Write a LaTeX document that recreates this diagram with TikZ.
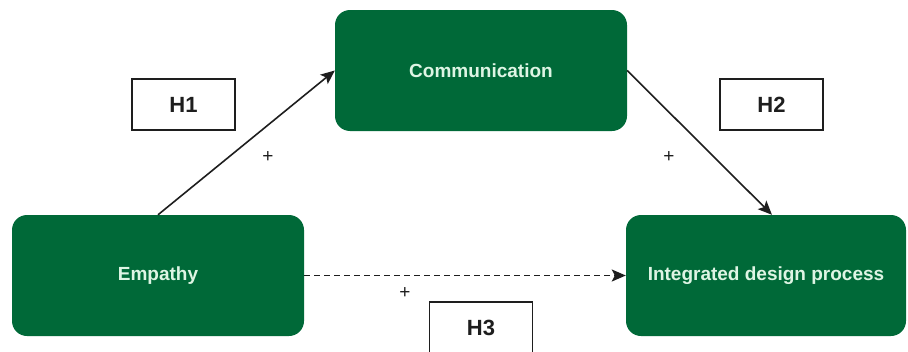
\documentclass[tikz,border=0pt]{standalone}
\usepackage{fontspec}
\setmainfont{Liberation Sans}
\usetikzlibrary{arrows.meta}
\definecolor{construct}{RGB}{0,105,56}
\definecolor{constructtext}{RGB}{222,245,228}
\definecolor{labelink}{RGB}{30,30,30}
\tikzset{
  construct/.style={draw=none, fill=construct, rounded corners=15pt,
    minimum width=#1, minimum height=121pt, inner sep=0pt,
    text=constructtext, font=\bfseries\fontsize{19}{22}\selectfont},
  construct/.default=292pt,
  hypbox/.style={draw=labelink, line width=1.5pt, fill=white,
    minimum width=103pt, minimum height=51pt, inner sep=0pt,
    text=labelink, font=\bfseries\fontsize{22}{24}\selectfont},
  sign/.style={inner sep=0pt, text=labelink, font=\fontsize{19}{21}\selectfont},
  path/.style={draw=labelink, line width=1.6pt,
    -{Stealth[length=14pt,width=12pt,inset=3pt]}},
}
\begin{document}
\begin{tikzpicture}[x=1pt,y=-1pt]
  \useasboundingbox (0,0) rectangle (908,351);

  % constructs
  \node[construct] (comm) at (481,70.5) {Communication};
  \node[construct] (emp)  at (158,275.5) {Empathy};
  \node[construct=280pt] (idp) at (766,275.5) {Integrated design process};

  % hypothesis labels
  \node[hypbox] (h1) at (183.5,104.5) {H1};
  \node[hypbox] (h2) at (771.5,104.5) {H2};
  \node[hypbox] (h3) at (481,327.5) {H3};

  % signs of the paths
  \node[sign] (p1) at (268,157) {+};
  \node[sign] (p2) at (669,157) {+};
  \node[sign] (p3) at (405,293) {+};

  % paths
  \draw[path] (emp.north) -- (comm.west);
  \draw[path] (comm.east) -- ([xshift=6pt]idp.north);
  \draw[path, dash pattern=on 6pt off 4pt] (emp.east) -- (idp.west);
\end{tikzpicture}
\end{document}
